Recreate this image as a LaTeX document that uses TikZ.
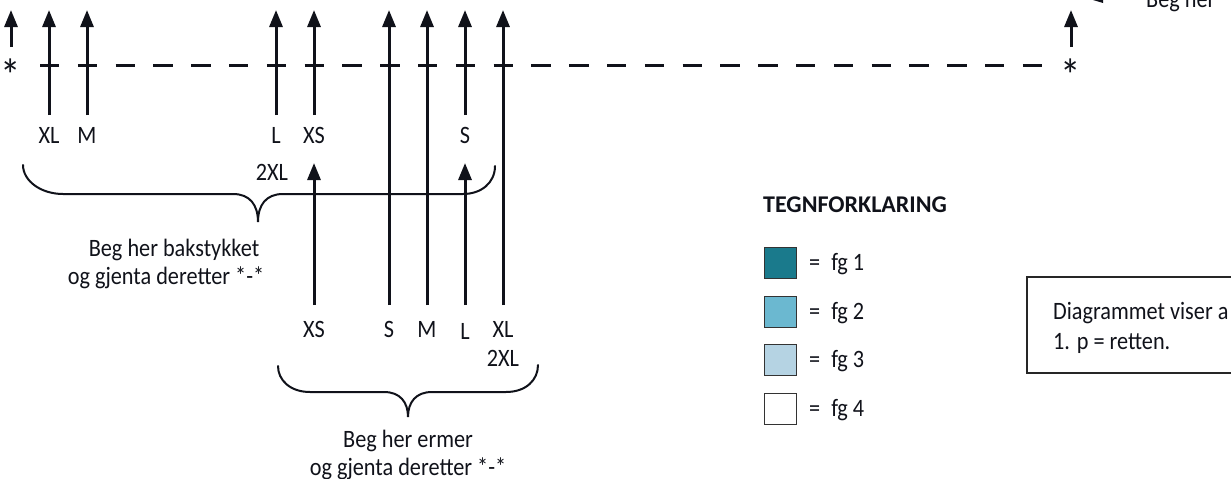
\documentclass[tikz,border=0pt]{standalone}
\usepackage{fontspec}
\setmainfont{Carlito}[FakeStretch=0.89]
\newfontfamily\titlefont{Carlito}
\usetikzlibrary{arrows.meta}
\definecolor{fgone}{RGB}{26,122,140}
\definecolor{fgtwo}{RGB}{107,184,208}
\definecolor{fgthree}{RGB}{181,211,227}
\definecolor{ink}{RGB}{16,18,26}
\begin{document}
\begin{tikzpicture}[x=1pt,y=-1pt,
  lbl/.style={font=\fontsize{25}{28}\selectfont, text=ink, inner sep=0pt, anchor=base},
  lblw/.style={lbl, anchor=base west},
  starlbl/.style={lbl, font=\fontsize{46}{46}\selectfont},
  up/.style={line width=3pt, draw=ink, -{Triangle[length=17pt,width=13pt]}},
  bracepath/.style={line width=2pt, draw=ink, line cap=round},
  swatch/.style={draw=black!80, line width=1.5pt, minimum width=32pt, minimum height=31pt, inner sep=0pt}]
\useasboundingbox (0,0) rectangle (1231,479);
\clip (0,0) rectangle (1231,479);

% arrow tips (top) and tails
\coordinate (tA) at (11,10);   \coordinate (bA) at (11,47);
\coordinate (tZ) at (1071,10); \coordinate (bZ) at (1071,47);
\coordinate (tXL) at (49,10);  \coordinate (bXL) at (49,115);
\coordinate (tM) at (87,10);   \coordinate (bM) at (87,115);
\coordinate (tL) at (276,10);  \coordinate (bL) at (276,115);
\coordinate (tXS) at (314,10); \coordinate (bXS) at (314,115);
\coordinate (tS) at (465,10);  \coordinate (bS) at (465,115);
\coordinate (tlS) at (389,10); \coordinate (blS) at (389,305);
\coordinate (tlM) at (427,10); \coordinate (blM) at (427,305);
\coordinate (tlX) at (503,10); \coordinate (blX) at (503,305);
\coordinate (tbXS) at (314,163); \coordinate (bbXS) at (314,305);
\coordinate (tbL) at (465,163);  \coordinate (bbL) at (465,305);

% dashed line
\coordinate (dl) at (40,65); \coordinate (dr) at (1043,65);
\draw[line width=3pt, draw=ink, dash pattern=on 19.4pt off 18.4pt] (dl) -- (dr);

\foreach \n in {A,Z,XL,M,L,XS,S,lS,lM,lX,bXS,bL}{
  \draw[up] (b\n) -- (t\n);
}

% stars
\node[starlbl] (starL) at (11,91) {*};
\node[starlbl] (starR) at (1071,91) {*};

% top labels
\node[lbl] (lXL) at (49,143) {XL};
\node[lbl] (lM) at (87,143) {M};
\node[lbl] (lL) at (276,143) {L};
\node[lbl] (lXS) at (314,143) {XS};
\node[lbl] (lS) at (465,143) {S};
\node[lbl] (l2XL) at (272,180) {2XL};

% bottom labels
\node[lbl] (mXS) at (314,337) {XS};
\node[lbl] (mS) at (389,337) {S};
\node[lbl] (mM) at (427,337) {M};
\node[lbl] (mL) at (465,339) {L};
\node[lbl] (mXL) at (503,337) {XL};
\node[lbl] (m2XL) at (503,366) {2XL};

% top brace
\draw[bracepath] (23,165) .. controls (23,181) and (41,194) .. (63,194)
  -- (233,194) .. controls (250,194) and (258,205) .. (258,222)
  .. controls (258,205) and (266,194) .. (283,194)
  -- (463,194) .. controls (481,194) and (495,183) .. (495,166);
\node[lbl] (bak1) at (174,256) {Beg her bakstykket};
\node[lbl] (bak2) at (166,284) {og gjenta deretter *-*};

% bottom brace
\draw[bracepath] (278,366) .. controls (278,380) and (290,392) .. (310,392)
  -- (384,392) .. controls (400,392) and (408,402) .. (408,417)
  .. controls (408,402) and (416,392) .. (432,392)
  -- (506,392) .. controls (526,392) and (538,380) .. (538,365);
\node[lbl] (erm1) at (408,447) {Beg her ermer};
\node[lbl] (erm2) at (408,475) {og gjenta deretter *-*};

% legend
\node[lblw, font=\titlefont\bfseries\fontsize{24}{28}\selectfont] (leg) at (763,212) {TEGNFORKLARING};
\node[swatch, fill=fgone] (s1) at (780.5,263) {};
\node[swatch, fill=fgtwo] (s2) at (780.5,312) {};
\node[swatch, fill=fgthree] (s3) at (780.5,360) {};
\node[swatch, fill=white] (s4) at (780.5,409) {};
\node[lblw] (e1) at (809,270) {=\hspace{11pt}fg 1};
\node[lblw] (e2) at (809,319) {=\hspace{11pt}fg 2};
\node[lblw] (e3) at (809,367) {=\hspace{11pt}fg 3};
\node[lblw] (e4) at (809,416) {=\hspace{11pt}fg 4};

% note box
\draw[line width=2.5pt, draw=black!85] (1027,277) rectangle (1300,373);
\node[lblw] (note1) at (1053,319) {Diagrammet viser a};
\node[lblw] (note2) at (1053,349) {1. p = retten.};

% top right remnants
\node[lblw] (begtr) at (1146,7) {Beg her};
\fill[ink] (1093,0) -- (1103,0) -- (1103,3) -- cycle;
\end{tikzpicture}
\end{document}
